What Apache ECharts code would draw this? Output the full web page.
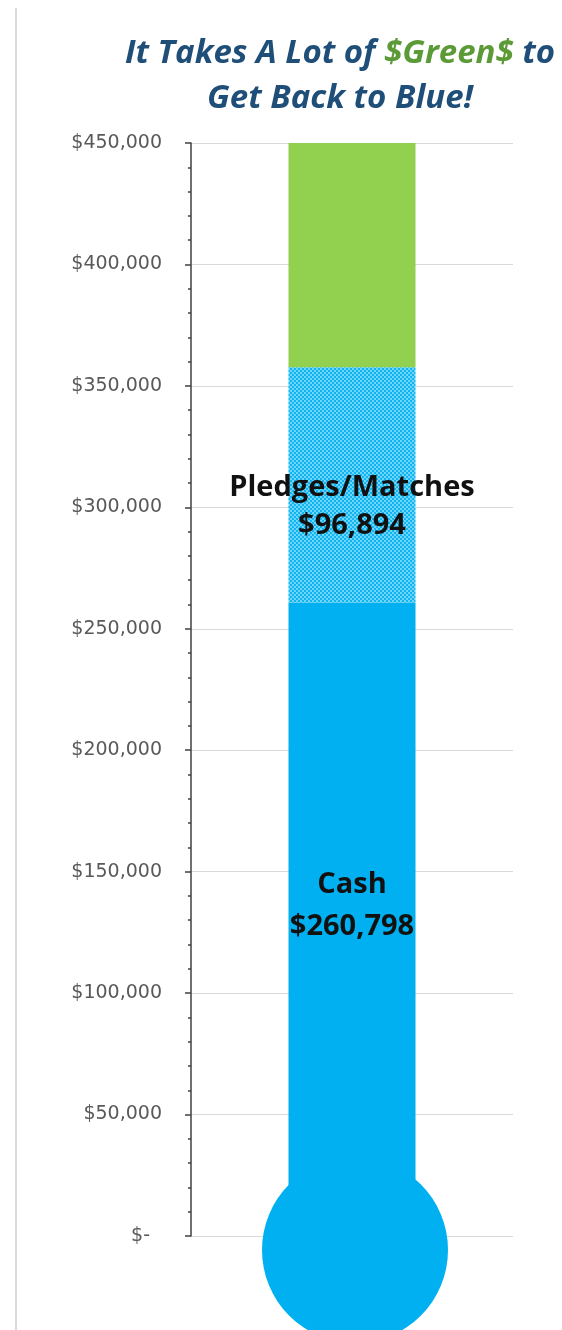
<!DOCTYPE html>
<html><head><meta charset="utf-8">
<script src="https://cdn.jsdelivr.net/npm/echarts@6/dist/echarts.min.js"></script>
<style>html,body{margin:0;padding:0;background:#fff}#c{width:562px;height:1330px}</style>
</head><body><div id="c"></div>
<script>
const categories = ['Thermometer'];
const cash = [260798];
const pledges = [96894];
const goal = [450000];
const remaining = goal.map((g, i) => g - cash[i] - pledges[i]);
const bulb = [[0, 0]];

const blue = '#00B0F0', green = '#92D050';
const pc = document.createElement('canvas');
pc.width = 4; pc.height = 4;
const g = pc.getContext('2d');
g.fillStyle = '#0fb4f0'; g.fillRect(0, 0, 4, 4);
g.fillStyle = '#6fd6fb';
g.fillRect(0, 0, 2, 2); g.fillRect(2, 2, 2, 2);

const chart = echarts.init(document.getElementById('c'), null, {renderer: 'canvas'});
const fmt = v => v === 0 ? '{z|$-}' : '$' + v.toLocaleString('en-US');
const tf = {fontFamily: 'Open Sans', fontWeight: 'bold', fontStyle: 'italic', fontSize: 33, lineHeight: 45};
chart.setOption({
  animation: false,
  title: {
    text: '{a|It Takes A Lot of }{g|$Green$}{a| to}\n{a|Get Back to Blue!}',
    left: 335, top: 26, textAlign: 'center',
    textStyle: {
      rich: {
        a: Object.assign({color: '#1F4E79'}, tf),
        g: Object.assign({color: '#5B9A36'}, tf)
      }
    }
  },
  graphic: [{type: 'line', shape: {x1: 16, y1: 8, x2: 16, y2: 1330}, style: {stroke: '#d9d9d9', lineWidth: 2}}],
  grid: {left: 191, right: 49, top: 143, bottom: 94},
  xAxis: {type: 'category', data: categories, show: false},
  yAxis: {
    type: 'value', min: 0, max: 450000, interval: 50000,
    axisLine: {show: true, lineStyle: {color: '#404040', width: 1.5}},
    axisTick: {show: true, length: 6, lineStyle: {color: '#404040', width: 1.5}},
    minorTick: {show: true, splitNumber: 5, length: 3, lineStyle: {color: '#404040', width: 1.5}},
    splitLine: {show: true, lineStyle: {color: '#d9d9d9', width: 1}},
    axisLabel: {
      formatter: fmt, margin: 29, color: '#595959', fontFamily: 'DejaVu Sans', fontSize: 19,
      rich: {z: {fontFamily: 'DejaVu Sans', fontSize: 19, color: '#595959', padding: [0, 12, 0, 0]}}
    }
  },
  series: [
    {type: 'bar', name: 'Cash', stack: 't', data: cash, barWidth: 127, itemStyle: {color: blue},
     label: {show: true, position: 'inside', offset: [0, -14], formatter: p => 'Cash\n$' + p.value.toLocaleString('en-US'),
       fontFamily: 'Open Sans', fontWeight: 'bold', fontSize: 29, lineHeight: 42, color: '#111'}},
    {type: 'bar', name: 'Pledges/Matches', stack: 't', data: pledges, itemStyle: {color: {image: pc, repeat: 'repeat'}},
     label: {show: true, position: 'inside', offset: [0, 22], formatter: p => 'Pledges/Matches\n$' + p.value.toLocaleString('en-US'),
       fontFamily: 'Open Sans', fontWeight: 'bold', fontSize: 29, lineHeight: 38, color: '#111'}},
    {type: 'bar', name: 'Remaining', stack: 't', data: remaining, itemStyle: {color: green}},
    {type: 'scatter', data: bulb, symbol: 'circle', symbolSize: 186, symbolOffset: [3, 14], clip: false,
     itemStyle: {color: blue, opacity: 1}, z: 3}
  ]
});
</script></body></html>
